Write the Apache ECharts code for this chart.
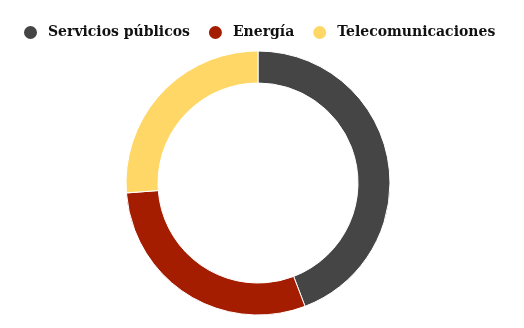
<!DOCTYPE html>
<html>
<head>
<meta charset="utf-8">
<script src="https://cdn.jsdelivr.net/npm/echarts@6/dist/echarts.min.js"></script>
<style>
html,body{margin:0;padding:0;background:#fff;}
#chart{width:524px;height:328px;}
</style>
</head>
<body>
<div id="chart"></div>
<script>
const categories = ['Servicios públicos', 'Energía', 'Telecomunicaciones'];
const values = [44.2, 29.6, 26.2];
const colors = ['#454545', '#a51d00', '#fed766'];

const chart = echarts.init(document.getElementById('chart'), null, {renderer: 'canvas'});
chart.setOption({
  animation: false,
  color: colors,
  legend: {
    data: categories,
    left: 17,
    top: 19,
    icon: 'circle',
    itemWidth: 25,
    itemHeight: 15,
    itemGap: 17,
    textStyle: {
      fontFamily: 'DejaVu Serif',
      fontWeight: 'bold',
      fontSize: 14,
      color: '#111'
    }
  },
  series: [{
    type: 'pie',
    center: [258, 183],
    radius: [100, 132],
    startAngle: 90,
    clockwise: true,
    label: {show: false},
    labelLine: {show: false},
    itemStyle: {borderColor: '#fff', borderWidth: 1},
    data: categories.map((c, i) => ({name: c, value: values[i]}))
  }]
});
</script>
</body>
</html>
